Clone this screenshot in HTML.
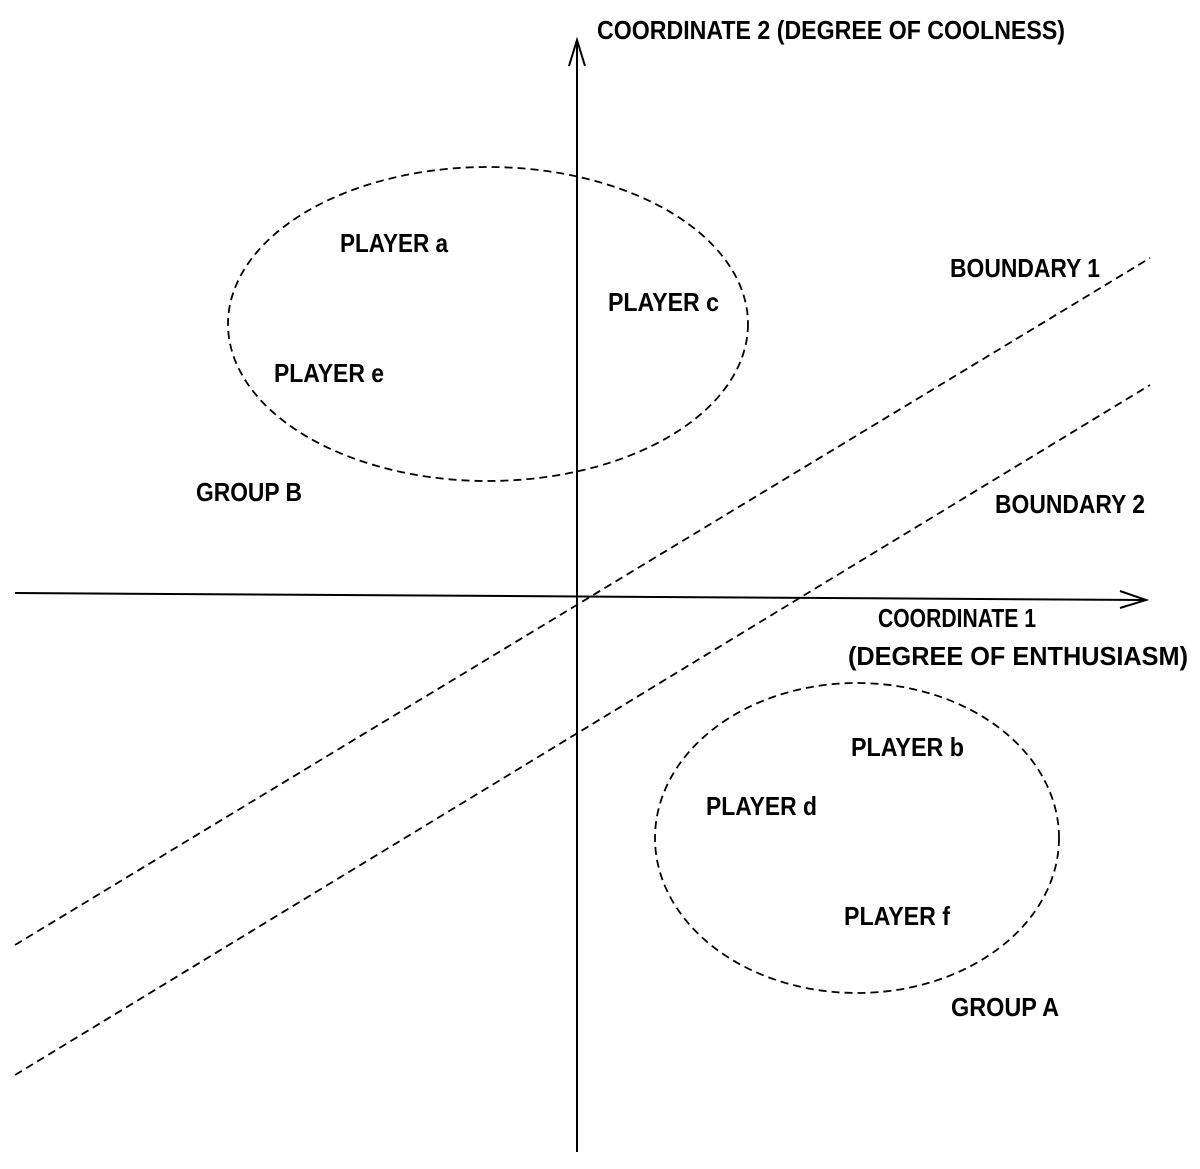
<!DOCTYPE html>
<html><head><meta charset="utf-8"><style>html,body{margin:0;padding:0;background:#fff}svg{display:block}</style></head>
<body>
<svg width="1200" height="1169" viewBox="0 0 1200 1169" xmlns="http://www.w3.org/2000/svg">
<g stroke="#000" fill="none" stroke-width="2">
<line x1="577" y1="1152" x2="577" y2="42"/>
<path d="M569 66 L577 40 L585 66"/>
<line x1="15" y1="593" x2="1145" y2="600"/>
<path d="M1120 591 L1146 600 L1120 608"/>
</g>
<g stroke="#000" fill="none" stroke-width="1.8" stroke-dasharray="8,5">
<line x1="15" y1="945" x2="1150" y2="258"/>
<line x1="15" y1="1075" x2="1150" y2="385"/>
<ellipse cx="488" cy="324" rx="260" ry="157"/>
<ellipse cx="857" cy="838" rx="202" ry="155"/>
</g>
<g font-family="Liberation Sans, sans-serif" font-size="26" font-weight="600" fill="#000">
<text x="597" y="39" textLength="468" lengthAdjust="spacingAndGlyphs">COORDINATE 2 (DEGREE OF COOLNESS)</text>
<text x="340" y="252" textLength="108" lengthAdjust="spacingAndGlyphs">PLAYER a</text>
<text x="608" y="311" textLength="111" lengthAdjust="spacingAndGlyphs">PLAYER c</text>
<text x="274" y="382" textLength="110" lengthAdjust="spacingAndGlyphs">PLAYER e</text>
<text x="196" y="501" textLength="106" lengthAdjust="spacingAndGlyphs">GROUP B</text>
<text x="950" y="277" textLength="150" lengthAdjust="spacingAndGlyphs">BOUNDARY 1</text>
<text x="995" y="513" textLength="150" lengthAdjust="spacingAndGlyphs">BOUNDARY 2</text>
<text x="878" y="627" textLength="158" lengthAdjust="spacingAndGlyphs">COORDINATE 1</text>
<text x="848" y="665" textLength="340" lengthAdjust="spacingAndGlyphs">(DEGREE OF ENTHUSIASM)</text>
<text x="851" y="756" textLength="113" lengthAdjust="spacingAndGlyphs">PLAYER b</text>
<text x="706" y="815" textLength="111" lengthAdjust="spacingAndGlyphs">PLAYER d</text>
<text x="844" y="925" textLength="106" lengthAdjust="spacingAndGlyphs">PLAYER f</text>
<text x="951" y="1016" textLength="108" lengthAdjust="spacingAndGlyphs">GROUP A</text>
</g>
</svg>
</body></html>
